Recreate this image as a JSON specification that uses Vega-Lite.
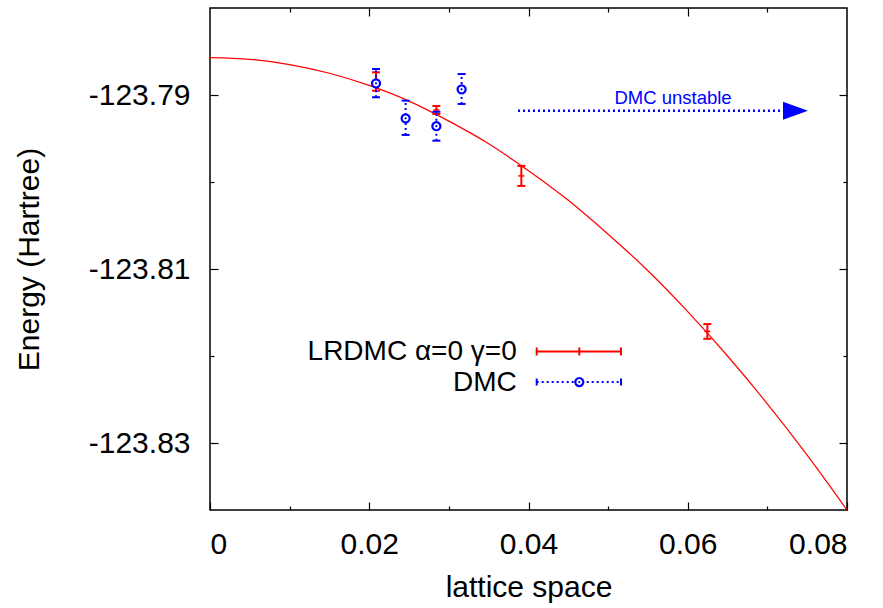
{
  "$schema": "https://vega.github.io/schema/vega-lite/v6.json",
  "width": 637,
  "height": 502,
  "autosize": "none",
  "padding": {"left": 210, "top": 8, "right": 36, "bottom": 97},
  "background": "white",
  "config": {
    "view": {"stroke": "black", "strokeWidth": 1.5},
    "font": "Liberation Sans",
    "axis": {
      "labelFont": "Liberation Sans",
      "titleFont": "Liberation Sans",
      "labelFontSize": 30,
      "titleFontSize": 30,
      "titleFontWeight": "normal",
      "labelColor": "black",
      "titleColor": "black",
      "tickColor": "black",
      "tickWidth": 1.2,
      "grid": false,
      "domain": false
    }
  },
  "datasets": {
    "curve": [
      {"x": 0, "E": -123.7857},
      {"x": 0.005, "E": -123.7859},
      {"x": 0.01, "E": -123.7865},
      {"x": 0.015, "E": -123.7875},
      {"x": 0.02, "E": -123.7889},
      {"x": 0.025, "E": -123.7907},
      {"x": 0.03, "E": -123.793},
      {"x": 0.035, "E": -123.7956},
      {"x": 0.04, "E": -123.7987},
      {"x": 0.045, "E": -123.8021},
      {"x": 0.05, "E": -123.806},
      {"x": 0.055, "E": -123.8102},
      {"x": 0.06, "E": -123.8149},
      {"x": 0.065, "E": -123.82},
      {"x": 0.07, "E": -123.8255},
      {"x": 0.075, "E": -123.8314},
      {"x": 0.08, "E": -123.8377}
    ],
    "lrdmc": [
      {"x": 0.02085, "E": -123.78845, "lo": -123.78951, "hi": -123.78739},
      {"x": 0.02843, "E": -123.79172, "lo": -123.79218, "hi": -123.79126},
      {"x": 0.0391, "E": -123.7993, "lo": -123.80045, "hi": -123.79815},
      {"x": 0.06246, "E": -123.81718, "lo": -123.81802, "hi": -123.81633}
    ],
    "dmc": [
      {"x": 0.02085, "E": -123.78866, "lo": -123.79026, "hi": -123.78701},
      {"x": 0.02457, "E": -123.79268, "lo": -123.79459, "hi": -123.79065},
      {"x": 0.02843, "E": -123.79359, "lo": -123.79525, "hi": -123.79193},
      {"x": 0.0316, "E": -123.78935, "lo": -123.79103, "hi": -123.78759}
    ],
    "arrow": [
      {"x1": 0.03868, "x2": 0.0722, "xh": 0.07353, "y": -123.7918, "xt": 0.05815, "yt": -123.7904, "label": "DMC unstable"}
    ],
    "leg": [
      {"series": "LRDMC", "label": "LRDMC α=0 γ=0", "xt": 0.03852, "x1": 0.04103, "x2": 0.05162, "xm": 0.04638, "y": -123.81948},
      {"series": "DMC", "label": "DMC", "xt": 0.03852, "x1": 0.04103, "x2": 0.05162, "xm": 0.04638, "y": -123.82299}
    ]
  },
  "layer": [
    {
      "data": {"name": "curve"},
      "mark": {"type": "line", "color": "#ff0000", "strokeWidth": 1.2, "interpolate": "monotone", "clip": true},
      "encoding": {
        "x": {"field": "x", "type": "quantitative",
              "scale": {"domain": [0, 0.08], "nice": false, "zero": false},
              "axis": {"orient": "bottom", "values": [0, 0.02, 0.04, 0.06, 0.08], "tickSize": -8,
                       "labelPadding": 27, "title": "lattice space", "titlePadding": 13,
                       "labelExpr": "datum.value == 0 ? '0' : format(datum.value, '.2f')"}},
        "y": {"field": "E", "type": "quantitative",
              "scale": {"domain": [-123.8377, -123.78], "nice": false, "zero": false},
              "axis": {"orient": "left", "values": [-123.79, -123.81, -123.83], "tickSize": -8,
                       "labelPadding": 28, "title": "Energy (Hartree)", "titlePadding": 44,
                       "labelExpr": "'-' + format(abs(datum.value), '.2f')"}}
      }
    },
    {
      "data": {"name": "curve"},
      "mark": {"type": "line", "strokeOpacity": 0},
      "encoding": {
        "x": {"field": "x", "type": "quantitative",
              "axis": {"orient": "bottom", "values": [0.01, 0.03, 0.05, 0.07], "tickSize": -4, "labels": false, "title": null}},
        "y": {"field": "E", "type": "quantitative",
              "axis": {"orient": "left", "values": [-123.8, -123.82], "tickSize": -4, "labels": false, "title": null}}
      }
    },
    {
      "data": {"name": "curve"},
      "mark": {"type": "line", "strokeOpacity": 0},
      "encoding": {
        "x": {"field": "x", "type": "quantitative",
              "axis": {"orient": "top", "values": [0.02, 0.04, 0.06], "tickSize": -8, "labels": false, "title": null}},
        "y": {"field": "E", "type": "quantitative",
              "axis": {"orient": "right", "values": [-123.79, -123.81, -123.83], "tickSize": -8, "labels": false, "title": null}}
      }
    },
    {
      "data": {"name": "curve"},
      "mark": {"type": "line", "strokeOpacity": 0},
      "encoding": {
        "x": {"field": "x", "type": "quantitative",
              "axis": {"orient": "top", "values": [0.01, 0.03, 0.05, 0.07], "tickSize": -4, "labels": false, "title": null}},
        "y": {"field": "E", "type": "quantitative",
              "axis": {"orient": "right", "values": [-123.8, -123.82], "tickSize": -4, "labels": false, "title": null}}
      }
    },
    {
      "data": {"name": "lrdmc"},
      "mark": {"type": "rule", "color": "#ff0000", "strokeWidth": 2},
      "encoding": {
        "x": {"field": "x", "type": "quantitative", "axis": null},
        "y": {"field": "lo", "type": "quantitative", "axis": null},
        "y2": {"field": "hi"}
      }
    },
    {
      "data": {"name": "lrdmc"},
      "mark": {"type": "tick", "orient": "horizontal", "color": "#ff0000", "size": 8, "thickness": 2, "opacity": 1},
      "encoding": {
        "x": {"field": "x", "type": "quantitative", "axis": null},
        "y": {"field": "lo", "type": "quantitative", "axis": null}
      }
    },
    {
      "data": {"name": "lrdmc"},
      "mark": {"type": "tick", "orient": "horizontal", "color": "#ff0000", "size": 8, "thickness": 2, "opacity": 1},
      "encoding": {
        "x": {"field": "x", "type": "quantitative", "axis": null},
        "y": {"field": "hi", "type": "quantitative", "axis": null}
      }
    },
    {
      "data": {"name": "lrdmc"},
      "mark": {"type": "tick", "orient": "horizontal", "color": "#ff0000", "size": 6, "thickness": 1.5, "opacity": 1},
      "encoding": {
        "x": {"field": "x", "type": "quantitative", "axis": null},
        "y": {"field": "E", "type": "quantitative", "axis": null}
      }
    },
    {
      "data": {"name": "dmc"},
      "mark": {"type": "rule", "color": "#0000ff", "strokeWidth": 2, "strokeDash": [2, 3]},
      "encoding": {
        "x": {"field": "x", "type": "quantitative", "axis": null},
        "y": {"field": "lo", "type": "quantitative", "axis": null},
        "y2": {"field": "hi"}
      }
    },
    {
      "data": {"name": "dmc"},
      "mark": {"type": "tick", "orient": "horizontal", "color": "#0000ff", "size": 8, "thickness": 2, "opacity": 1, "strokeDash": [2, 3]},
      "encoding": {
        "x": {"field": "x", "type": "quantitative", "axis": null},
        "y": {"field": "lo", "type": "quantitative", "axis": null}
      }
    },
    {
      "data": {"name": "dmc"},
      "mark": {"type": "tick", "orient": "horizontal", "color": "#0000ff", "size": 8, "thickness": 2, "opacity": 1, "strokeDash": [2, 3]},
      "encoding": {
        "x": {"field": "x", "type": "quantitative", "axis": null},
        "y": {"field": "hi", "type": "quantitative", "axis": null}
      }
    },
    {
      "data": {"name": "dmc"},
      "mark": {"type": "point", "shape": "circle", "filled": false, "color": "#0000ff", "stroke": "#0000ff", "fill": "white", "fillOpacity": 1, "strokeWidth": 2.2, "size": 65, "opacity": 1},
      "encoding": {
        "x": {"field": "x", "type": "quantitative", "axis": null},
        "y": {"field": "E", "type": "quantitative", "axis": null}
      }
    },
    {
      "data": {"name": "dmc"},
      "mark": {"type": "point", "shape": "circle", "filled": true, "color": "#0000ff", "size": 5, "opacity": 1},
      "encoding": {
        "x": {"field": "x", "type": "quantitative", "axis": null},
        "y": {"field": "E", "type": "quantitative", "axis": null}
      }
    },
    {
      "data": {"name": "arrow"},
      "mark": {"type": "rule", "color": "#0000ff", "strokeWidth": 2.5, "strokeDash": [2, 3]},
      "encoding": {
        "x": {"field": "x1", "type": "quantitative", "axis": null},
        "x2": {"field": "x2"},
        "y": {"field": "y", "type": "quantitative", "axis": null}
      }
    },
    {
      "data": {"name": "arrow"},
      "mark": {"type": "point", "shape": "M-1,-0.72L1,0L-1,0.72Z", "filled": true, "color": "#0000ff", "size": 625, "opacity": 1},
      "encoding": {
        "x": {"field": "xh", "type": "quantitative", "axis": null},
        "y": {"field": "y", "type": "quantitative", "axis": null}
      }
    },
    {
      "data": {"name": "arrow"},
      "mark": {"type": "text", "color": "#0000ff", "fontSize": 18.5, "font": "Liberation Sans", "align": "center", "baseline": "middle"},
      "encoding": {
        "x": {"field": "xt", "type": "quantitative", "axis": null},
        "y": {"field": "yt", "type": "quantitative", "axis": null},
        "text": {"field": "label"}
      }
    },
    {
      "data": {"name": "leg"},
      "mark": {"type": "text", "color": "black", "fontSize": 28, "font": "Liberation Sans", "align": "right", "baseline": "middle", "dy": 1},
      "encoding": {
        "x": {"field": "xt", "type": "quantitative", "axis": null},
        "y": {"field": "y", "type": "quantitative", "axis": null},
        "text": {"field": "label"}
      }
    },
    {
      "data": {"name": "leg"},
      "transform": [{"filter": "datum.series == 'LRDMC'"}],
      "mark": {"type": "rule", "color": "#ff0000", "strokeWidth": 2},
      "encoding": {
        "x": {"field": "x1", "type": "quantitative", "axis": null},
        "x2": {"field": "x2"},
        "y": {"field": "y", "type": "quantitative", "axis": null}
      }
    },
    {
      "data": {"name": "leg"},
      "transform": [{"filter": "datum.series == 'LRDMC'"}, {"fold": ["x1", "x2", "xm"], "as": ["k", "px"]}],
      "mark": {"type": "tick", "orient": "vertical", "color": "#ff0000", "size": 8, "thickness": 2, "opacity": 1},
      "encoding": {
        "x": {"field": "px", "type": "quantitative", "axis": null},
        "y": {"field": "y", "type": "quantitative", "axis": null}
      }
    },
    {
      "data": {"name": "leg"},
      "transform": [{"filter": "datum.series == 'DMC'"}],
      "mark": {"type": "rule", "color": "#0000ff", "strokeWidth": 2, "strokeDash": [2, 3]},
      "encoding": {
        "x": {"field": "x1", "type": "quantitative", "axis": null},
        "x2": {"field": "x2"},
        "y": {"field": "y", "type": "quantitative", "axis": null}
      }
    },
    {
      "data": {"name": "leg"},
      "transform": [{"filter": "datum.series == 'DMC'"}, {"fold": ["x1", "x2"], "as": ["k", "px"]}],
      "mark": {"type": "tick", "orient": "vertical", "color": "#0000ff", "size": 7, "thickness": 2, "opacity": 1},
      "encoding": {
        "x": {"field": "px", "type": "quantitative", "axis": null},
        "y": {"field": "y", "type": "quantitative", "axis": null}
      }
    },
    {
      "data": {"name": "leg"},
      "transform": [{"filter": "datum.series == 'DMC'"}],
      "mark": {"type": "point", "shape": "circle", "filled": false, "stroke": "#0000ff", "fill": "white", "fillOpacity": 1, "strokeWidth": 2.2, "size": 65, "opacity": 1},
      "encoding": {
        "x": {"field": "xm", "type": "quantitative", "axis": null},
        "y": {"field": "y", "type": "quantitative", "axis": null}
      }
    },
    {
      "data": {"name": "leg"},
      "transform": [{"filter": "datum.series == 'DMC'"}],
      "mark": {"type": "point", "shape": "circle", "filled": true, "color": "#0000ff", "size": 5, "opacity": 1},
      "encoding": {
        "x": {"field": "xm", "type": "quantitative", "axis": null},
        "y": {"field": "y", "type": "quantitative", "axis": null}
      }
    }
  ],
  "resolve": {"axis": {"x": "independent", "y": "independent"}}
}
